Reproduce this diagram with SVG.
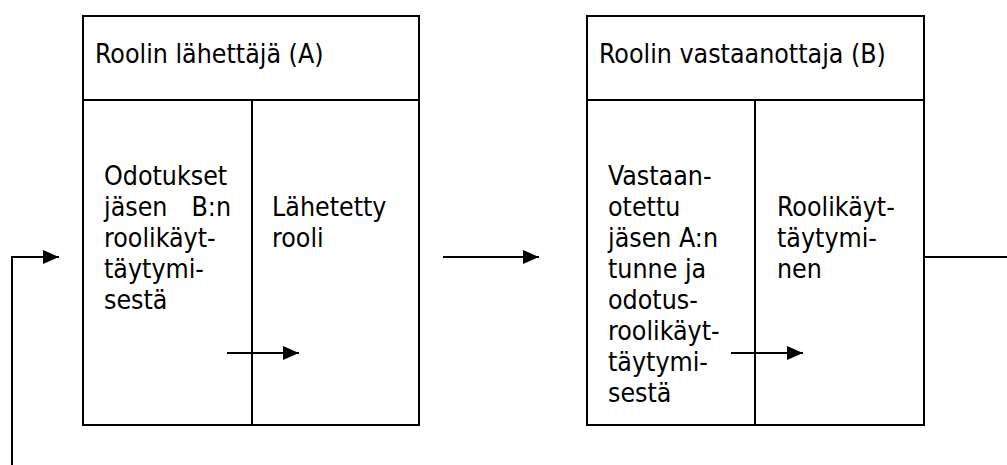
<svg xmlns="http://www.w3.org/2000/svg" width="1007" height="465" viewBox="0 0 1007 465">
<style>
.box{fill:#fff;stroke:#000;stroke-width:2}
.ln{fill:none;stroke:#000;stroke-width:2}
.t{font-family:"DejaVu Sans Condensed","DejaVu Sans",sans-serif;font-stretch:condensed;font-size:26.5px;fill:#000}
</style>
<defs>
<marker id="ah" viewBox="0 0 16 14" markerWidth="16" markerHeight="14" refX="16" refY="7" markerUnits="userSpaceOnUse" orient="auto">
<path d="M0,0 L16,7 L0,14 z" fill="#000"/>
</marker>
</defs>
<g id="nodeA">
<rect class="box" x="83" y="16" width="336" height="409"/>
<line class="ln" x1="83" y1="100" x2="419" y2="100"/>
<line class="ln" x1="252" y1="100" x2="252" y2="425"/>
<text class="t" x="95" y="63">Roolin lähettäjä (A)</text>
<text class="t" x="104" y="185">Odotukset</text>
<text class="t" x="104" y="216">jäsen</text>
<text class="t" x="231" y="216" text-anchor="end">B:n</text>
<text class="t" x="104" y="247">roolikäyt-</text>
<text class="t" x="104" y="278">täytymi-</text>
<text class="t" x="104" y="309">sestä</text>
<text class="t" x="272" y="216">Lähetetty</text>
<text class="t" x="272" y="247">rooli</text>
</g>
<g id="nodeB">
<rect class="box" x="587" y="16" width="337" height="409"/>
<line class="ln" x1="587" y1="100" x2="924" y2="100"/>
<line class="ln" x1="755" y1="100" x2="755" y2="425"/>
<text class="t" x="599" y="63">Roolin vastaanottaja (B)</text>
<text class="t" x="608" y="185">Vastaan-</text>
<text class="t" x="608" y="216">otettu</text>
<text class="t" x="608" y="247">jäsen A:n</text>
<text class="t" x="608" y="278">tunne ja</text>
<text class="t" x="608" y="309">odotus-</text>
<text class="t" x="608" y="340">roolikäyt-</text>
<text class="t" x="608" y="371">täytymi-</text>
<text class="t" x="608" y="402">sestä</text>
<text class="t" x="777" y="216">Roolikäyt-</text>
<text class="t" x="777" y="247">täytymi-</text>
<text class="t" x="777" y="278">nen</text>
</g>
<g id="connectors">
<polyline class="ln" points="12,465 12,257 59,257" marker-end="url(#ah)"/>
<line class="ln" x1="227" y1="353" x2="299" y2="353" marker-end="url(#ah)"/>
<line class="ln" x1="443" y1="257" x2="539" y2="257" marker-end="url(#ah)"/>
<line class="ln" x1="731" y1="353" x2="803" y2="353" marker-end="url(#ah)"/>
<line class="ln" x1="924" y1="257" x2="1007" y2="257"/>
</g>
</svg>
